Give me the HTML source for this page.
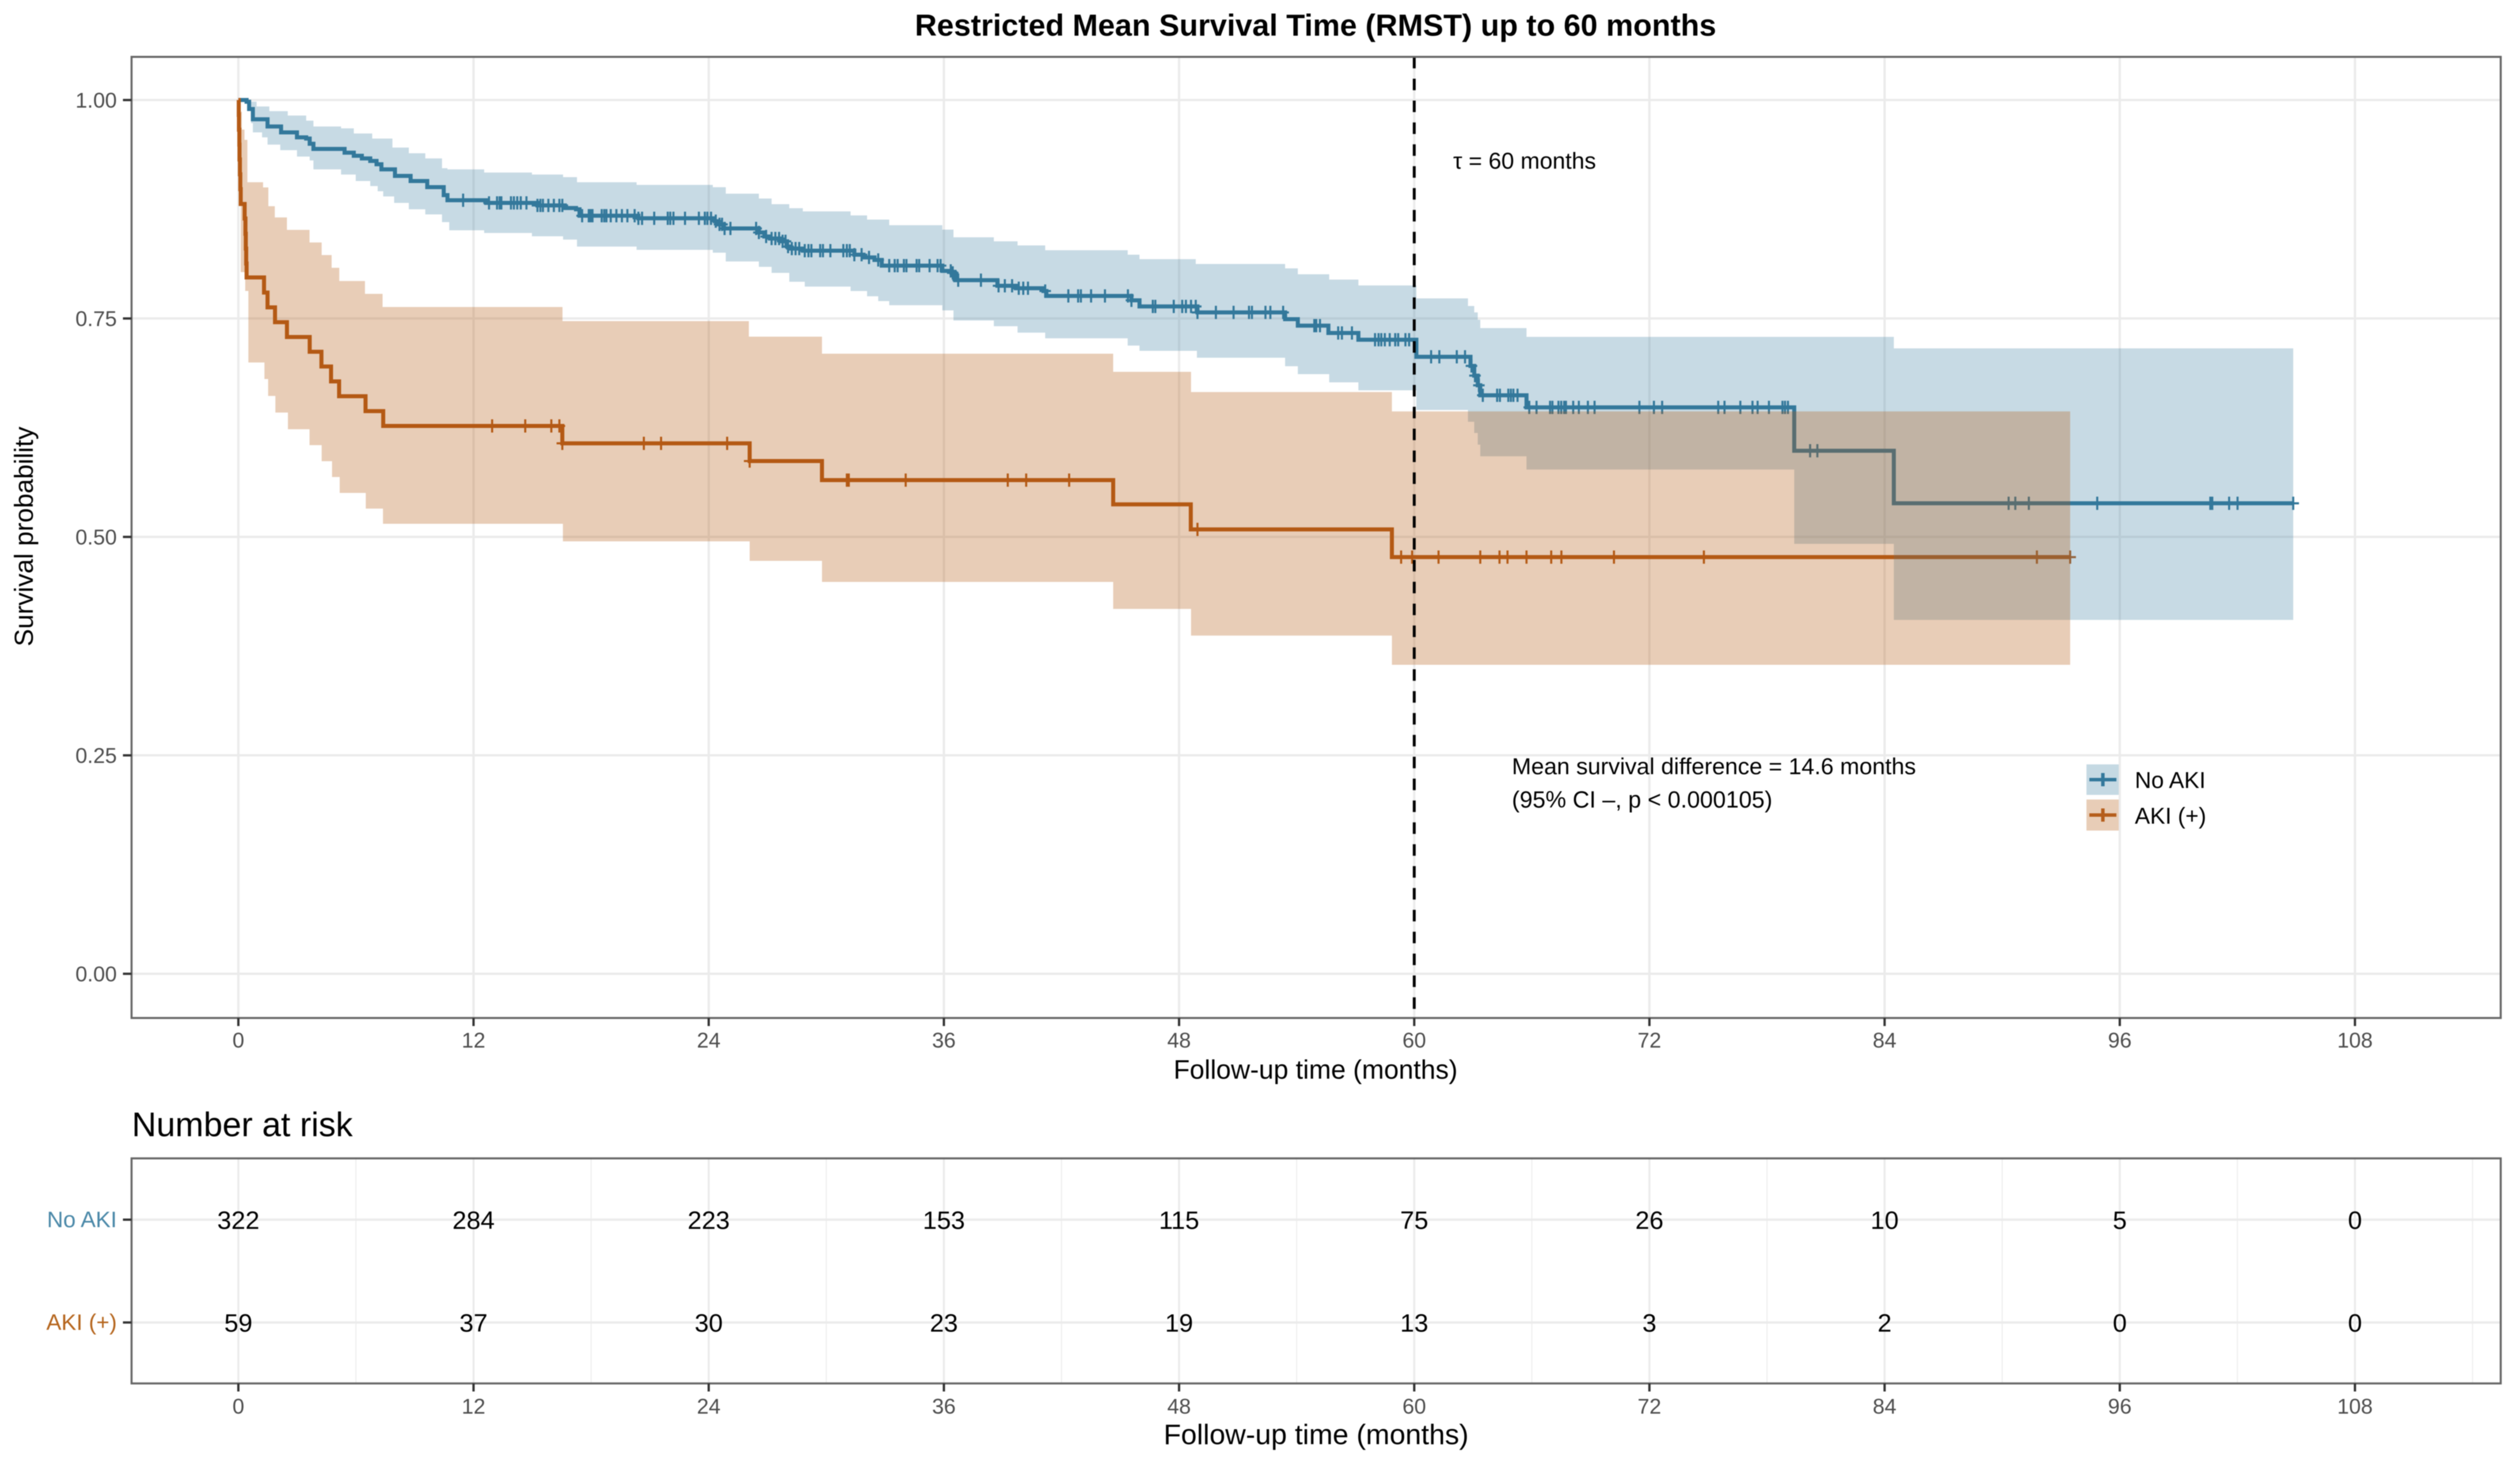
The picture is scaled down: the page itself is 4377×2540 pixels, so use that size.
<!DOCTYPE html>
<html lang="en">
<head>
<meta charset="utf-8">
<title>Restricted Mean Survival Time (RMST) up to 60 months</title>
<style>
html,body{margin:0;padding:0;background:#fff;width:4377px;height:2540px;overflow:hidden}
svg{display:block;font-family:"Liberation Sans",Arial,sans-serif;filter:blur(0.7px)}
</style>
</head>
<body>
<svg id="chart" xmlns="http://www.w3.org/2000/svg" width="4377" height="2540" viewBox="0 0 4377 2540">
  <rect x="0" y="0" width="4377" height="2540" fill="#ffffff"/>
  <g id="grid-main"></g>
  <g id="lines"></g>
  <g id="bands"></g>
  <g id="tau-line"></g>
  <rect id="main-frame" x="228.5" y="98.8" width="4115" height="1669.8" fill="none" stroke="#666666" stroke-width="3.5"/>
  <g id="axes-main"></g>

  <text x="2285" y="62" text-anchor="middle" font-size="53" font-weight="bold" fill="#000000">Restricted Mean Survival Time (RMST) up to 60 months</text>
  <text x="2285" y="1874" text-anchor="middle" font-size="46" fill="#000000">Follow-up time (months)</text>
  <text transform="translate(57 932) rotate(-90)" text-anchor="middle" font-size="45.5" fill="#000000">Survival probability</text>
  <text x="2524" y="293" font-size="40" fill="#000000">τ = 60 months</text>
  <text x="2626" y="1345" font-size="40.2" fill="#000000">Mean survival difference = 14.6 months</text>
  <text x="2626" y="1403" font-size="40.4" fill="#000000">(95% CI –, p &lt; 0.000105)</text>

  <g id="legend">
    <g>
      <rect x="3624" y="1328" width="56" height="53" fill="#3e80a2" fill-opacity="0.3"/>
      <path d="M3629 1354.5H3676M3652.5 1343V1366" fill="none" stroke="#33789b" stroke-width="6"/>
      <text x="3708" y="1369" font-size="39.5" fill="#000000">No AKI</text>
    </g>
    <g>
      <rect x="3624" y="1389" width="56" height="54" fill="#b2580f" fill-opacity="0.3"/>
      <path d="M3629 1416H3676M3652.5 1404.5V1427.5" fill="none" stroke="#b55e1c" stroke-width="6"/>
      <text x="3708" y="1431" font-size="39.5" fill="#000000">AKI (+)</text>
    </g>
  </g>

  <text x="229" y="1974" font-size="59" fill="#000000">Number at risk</text>
  <g id="grid-table"></g>
  <g id="risk-values"></g>
  <rect x="228.5" y="2012.5" width="4115" height="391" fill="none" stroke="#666666" stroke-width="3.5"/>
  <g id="axes-table"></g>
  <text x="2286" y="2509" text-anchor="middle" font-size="49.4" fill="#000000">Follow-up time (months)</text>
</svg>

<script>
// ---------- data ----------
const xTickMonths = [0, 12, 24, 36, 48, 60, 72, 84, 96, 108];
const xMinorMonths = [6, 18, 30, 42, 54, 66, 78, 90, 102, 114];
const yTickValues = [1.00, 0.75, 0.50, 0.25, 0.00];
const yTickLabels = ["1.00", "0.75", "0.50", "0.25", "0.00"];
const tauMonths = 60;

// No AKI Kaplan-Meier steps: time (months) and survival after the drop
const noAkiTimes = [0,.42,.55,.74,1.49,2.18,2.99,3.46,3.64,3.83,5.42,5.89,6.30,6.73,7.05,7.30,7.99,8.79,9.64,10.48,10.67,12.64,15.26,16.66,17.23,17.41,20.41,24.31,24.5,24.78,26.56,26.84,27.12,27.68,28.0,28.15,28.8,31.43,31.9,32.46,32.83,35.92,36.39,36.58,38.73,39.67,41.08,41.23,45.57,45.98,48.94,53.41,54.06,55.62,57.15,60.11,62.87,63.06,63.24,63.37,65.73,79.39,84.47,104.85];
const noAkiSurv = [1,.998,.9897,.978,.9697,.963,.9573,.9559,.95,.9441,.9397,.9362,.9332,.9303,.9265,.9206,.9132,.9073,.9003,.8912,.8853,.8823,.8794,.8764,.875,.8676,.8647,.8614,.8577,.853,.8484,.8438,.8415,.8383,.8323,.83,.8276,.823,.8198,.817,.8105,.8045,.8022,.7939,.7874,.7846,.7814,.7758,.7708,.7638,.7569,.7492,.7418,.7334,.7256,.7061,.6957,.6846,.6735,.6621,.6483,.5986,.5385,.5385];
const noAkiCensor = [11.47,12.79,13.2,13.33,13.42,13.91,14.06,14.23,14.41,14.7,15.26,15.41,15.54,15.82,16.1,16.38,16.53,17.54,17.88,17.97,18.07,18.54,18.67,18.78,19.0,19.29,19.57,19.85,20.22,20.41,20.6,21.22,21.91,22.04,22.2,22.79,23.5,23.8,23.93,24.12,24.36,24.55,24.68,24.81,25.11,26.42,26.56,26.93,27.21,27.4,27.59,27.77,27.92,28.05,28.24,28.43,28.62,28.9,29.09,29.24,29.69,29.83,30.21,30.87,31.05,31.2,31.43,31.8,32.18,32.65,33.21,33.49,33.64,33.96,34.09,34.61,34.74,35.27,35.68,35.83,36.35,36.45,36.73,37.89,38.79,39.11,39.48,39.82,40.05,40.29,41.17,42.35,42.85,42.99,43.51,44.22,45.39,45.57,46.66,46.79,47.73,48.16,48.35,48.61,48.85,48.94,49.88,50.78,51.57,51.72,52.41,52.66,53.31,54.9,55.0,55.19,56.12,56.31,56.82,58.0,58.18,58.32,58.5,58.75,59.03,59.18,59.55,59.74,60.86,61.28,62.17,62.59,62.92,63.1,63.3,63.5,64.23,64.37,64.8,64.93,65.06,65.27,65.87,66.24,66.93,67.05,67.36,67.5,67.65,67.74,68.11,68.4,68.86,69.2,71.49,72.23,72.65,75.51,75.83,76.64,77.26,77.52,78.1,78.79,78.92,79.07,80.2,80.57,90.33,90.67,91.36,94.85,100.62,100.72,101.58,102.01,104.85];

// AKI (+) Kaplan-Meier steps
const akiTimes = [0,.02,.03,.05,.06,.08,.10,.12,.32,.36,.38,.40,.42,1.31,1.49,1.87,2.48,3.64,4.24,4.73,5.14,6.49,7.39,16.53,26.09,29.78,44.64,48.6,58.86,93.47];
const akiSurv = [1,.983,.966,.949,.932,.915,.898,.881,.8644,.847,.83,.813,.797,.7797,.7627,.7458,.7288,.7119,.695,.678,.661,.644,.627,.6071,.5868,.565,.5373,.5086,.4769,.4769];
const akiCensor = [12.95,14.64,15.97,16.38,16.53,20.69,21.57,24.94,26.09,31.05,31.15,34.05,39.26,40.2,42.39,48.94,59.33,59.89,61.24,63.37,64.35,64.76,65.73,66.99,67.51,70.19,74.78,91.77,93.47];

// 95% confidence bands
const noAkiUpperTimes = [0,.46,.93,1.58,2.52,3.46,3.83,5.24,5.89,6.83,7.86,8.70,9.54,10.39,10.67,12.54,14.98,16.57,17.28,20.32,24.21,24.87,26.56,27.21,28.11,28.8,31.24,32.08,33.21,35.92,36.49,38.55,39.76,41.17,45.38,45.98,48.85,53.41,54.06,55.66,57.15,60.11,62.74,63.06,63.24,63.37,65.73,84.47,104.85];
const noAkiUpperSurv = [1,.998,.9926,.9873,.9823,.9764,.9697,.9676,.9617,.9559,.9456,.9391,.9332,.922,.9206,.917,.9147,.9117,.9059,.9029,.9002,.8928,.8873,.8808,.8762,.8725,.8679,.8632,.8568,.8517,.8429,.8383,.8336,.8281,.823,.8179,.8124,.8073,.8006,.7945,.7878,.773,.7643,.7569,.7485,.739,.729,.7158,.7158];
const noAkiLowerTimes = [0,.65,.74,1.21,1.49,2.14,2.99,3.64,3.83,5.24,5.99,6.73,7.11,7.39,7.95,8.7,9.54,10.39,10.76,12.54,14.98,16.57,17.28,20.32,24.21,24.87,26.56,27.21,28.11,28.9,31.24,32.08,32.65,33.21,35.92,36.49,38.55,39.76,41.17,45.38,45.98,48.91,53.41,54.06,55.66,57.15,60.11,62.74,63.06,63.24,63.37,65.73,79.39,84.47,104.85];
const noAkiLowerSurv = [1,.9735,.963,.9573,.949,.9426,.9353,.9309,.9206,.9147,.9073,.9015,.8956,.8897,.8823,.875,.8691,.8603,.8509,.8479,.8441,.8403,.8323,.8285,.8253,.8152,.8091,.8022,.792,.7865,.7814,.7754,.7699,.7652,.7592,.7477,.7412,.7338,.7273,.719,.713,.7051,.6954,.6863,.6769,.6678,.6453,.6318,.619,.6056,.5922,.5771,.492,.405,.405];
const akiUpperTimes = [0,.08,.18,.31,.46,1.26,1.53,1.86,2.48,3.63,4.25,4.76,5.15,6.46,7.36,16.54,26.05,29.78,44.64,48.61,58.86,93.47];
const akiUpperSurv = [1,.9867,.9662,.9544,.9059,.9,.8785,.8656,.8514,.837,.8226,.808,.7929,.7782,.7631,.747,.7292,.7097,.6889,.6658,.6437,.6437];
const akiLowerTimes = [0,.05,.12,.35,.51,1.33,1.52,1.89,2.53,3.63,4.25,4.78,5.17,6.5,7.38,16.56,26.09,29.78,44.64,48.61,58.86,93.47];
const akiLowerSurv = [1,.9,.803,.7815,.6996,.6807,.6613,.6423,.6232,.605,.5866,.5685,.5503,.5324,.515,.4949,.4726,.4485,.4176,.3871,.3536,.3536];

// Number at risk
const riskGroups = ["No AKI", "AKI (+)"];
const riskMonths = [0, 12, 24, 36, 48, 60, 72, 84, 96, 108];
const riskNoAki = [322, 284, 223, 153, 115, 75, 26, 10, 5, 0];
const riskAki = [59, 37, 30, 23, 19, 13, 3, 2, 0, 0];

// ---------- scales and style ----------
const SVGNS = "http://www.w3.org/2000/svg";
const xScale = m => 414 + m * 34.04;
const yScale = s => 173.8 + (1 - s) * 1518;
const rowScale = i => 2119 + i * 178.6;
const BLUE = "#2f7599", ORANGE = "#b55a16", BLUE_FILL = "#3e80a2", ORANGE_FILL = "#b2580f";
const PANEL_L = 228.5, PANEL_R = 4343.5, PANEL_T = 98.8, PANEL_B = 1768.6, TABLE_T = 2012.5, TABLE_B = 2403.5;

function make(tag, parent, attrs, text) {
  const el = document.createElementNS(SVGNS, tag);
  for (const k in attrs) el.setAttribute(k, attrs[k]);
  if (text !== undefined) el.textContent = text;
  document.getElementById(parent).appendChild(el);
  return el;
}
function stepLine(times, surv) {
  let d = "M" + xScale(times[0]).toFixed(1) + " " + yScale(surv[0]).toFixed(1);
  for (let i = 1; i < times.length; i++) {
    d += "H" + xScale(times[i]).toFixed(1) + "V" + yScale(surv[i]).toFixed(1);
  }
  return d;
}
function bandPath(upT, upS, loT, loS) {
  let d = stepLine(upT, upS);
  for (let i = loT.length - 1; i > 0; i--) {
    d += "L" + xScale(loT[i]).toFixed(1) + " " + yScale(loS[i]).toFixed(1);
    d += "V" + yScale(loS[i - 1]).toFixed(1);
  }
  d += "L" + xScale(loT[0]).toFixed(1) + " " + yScale(loS[0]).toFixed(1) + "Z";
  return d;
}
function survivalAt(times, surv, m) {
  let s = surv[0];
  for (let i = 0; i < times.length; i++) { if (times[i] <= m) s = surv[i]; }
  return s;
}

// ---------- main panel grid ----------
xTickMonths.forEach(m => {
  const el = make("line", "grid-main", {x1: xScale(m), x2: xScale(m), y1: PANEL_T, y2: PANEL_B, stroke: "#ebebeb", "stroke-width": 4});
  
  
});
yTickValues.forEach(v => {
  const el = make("line", "grid-main", {x1: PANEL_L, x2: PANEL_R, y1: yScale(v), y2: yScale(v), stroke: "#ebebeb", "stroke-width": 4});
  
  
});

// ---------- curves and censor marks ----------
const noAkiCurve = make("path", "lines", {d: stepLine(noAkiTimes, noAkiSurv), fill: "none", stroke: BLUE, "stroke-width": 7});


const akiCurve = make("path", "lines", {d: stepLine(akiTimes, akiSurv), fill: "none", stroke: ORANGE, "stroke-width": 7});



noAkiCensor.forEach(m => {
  const x = xScale(m), y = yScale(survivalAt(noAkiTimes, noAkiSurv, m));
  const el = make("path", "lines", {d: `M${x.toFixed(1)} ${(y-11.5).toFixed(1)}V${(y+11.5).toFixed(1)}M${(x-10).toFixed(1)} ${y.toFixed(1)}H${(x+10).toFixed(1)}`, fill: "none", stroke: BLUE, "stroke-width": 3.6});
  
  
});
akiCensor.forEach(m => {
  const x = xScale(m), y = yScale(survivalAt(akiTimes, akiSurv, m));
  const el = make("path", "lines", {d: `M${x.toFixed(1)} ${(y-11.5).toFixed(1)}V${(y+11.5).toFixed(1)}M${(x-10).toFixed(1)} ${y.toFixed(1)}H${(x+10).toFixed(1)}`, fill: "none", stroke: ORANGE, "stroke-width": 3.6});
  
  
});

// ---------- confidence bands ----------
const noAkiBand = make("path", "bands", {d: bandPath(noAkiUpperTimes, noAkiUpperSurv, noAkiLowerTimes, noAkiLowerSurv), fill: BLUE_FILL, "fill-opacity": 0.29});


const akiBand = make("path", "bands", {d: bandPath(akiUpperTimes, akiUpperSurv, akiLowerTimes, akiLowerSurv), fill: ORANGE_FILL, "fill-opacity": 0.3});



// ---------- tau line ----------
const tauLine = make("line", "tau-line", {x1: xScale(tauMonths), x2: xScale(tauMonths), y1: PANEL_T, y2: PANEL_B, stroke: "#000000", "stroke-width": 5, "stroke-dasharray": "20 18"});



// ---------- main panel axes ----------
xTickMonths.forEach(m => {
  const tick = make("line", "axes-main", {x1: xScale(m), x2: xScale(m), y1: PANEL_B, y2: PANEL_B + 14, stroke: "#333333", "stroke-width": 4});
  
  
  const label = make("text", "axes-main", {x: xScale(m), y: 1820, "text-anchor": "middle", "font-size": 37, fill: "#4d4d4d"}, String(m));
  
  
});
yTickValues.forEach((v, i) => {
  const tick = make("line", "axes-main", {x1: PANEL_L - 15, x2: PANEL_L, y1: yScale(v), y2: yScale(v), stroke: "#333333", "stroke-width": 4});
  
  
  const label = make("text", "axes-main", {x: 203, y: yScale(v) + 13, "text-anchor": "end", "font-size": 37, fill: "#4d4d4d"}, yTickLabels[i]);
  
  
});

// ---------- risk table ----------
xTickMonths.forEach(m => {
  const el = make("line", "grid-table", {x1: xScale(m), x2: xScale(m), y1: TABLE_T, y2: TABLE_B, stroke: "#ebebeb", "stroke-width": 3.5});
  
  
});
xMinorMonths.forEach(m => {
  const el = make("line", "grid-table", {x1: xScale(m), x2: xScale(m), y1: TABLE_T, y2: TABLE_B, stroke: "#efefef", "stroke-width": 2});
  
  
});
riskGroups.forEach((g, i) => {
  const grid = make("line", "grid-table", {x1: PANEL_L, x2: PANEL_R, y1: rowScale(i), y2: rowScale(i), stroke: "#ebebeb", "stroke-width": 4});
  
  
  const tick = make("line", "axes-table", {x1: PANEL_L - 15, x2: PANEL_L, y1: rowScale(i), y2: rowScale(i), stroke: "#333333", "stroke-width": 4});
  
  
  const label = make("text", "axes-table", {x: 203, y: rowScale(i) + 13, "text-anchor": "end", "font-size": 39, fill: i === 0 ? "#4a88a8" : "#b5651d"}, g);
  
  
});
riskMonths.forEach((m, i) => {
  const a = make("text", "risk-values", {x: xScale(m), y: rowScale(0) + 16, "text-anchor": "middle", "font-size": 44, fill: "#000000"}, String(riskNoAki[i]));
  
  
  const b = make("text", "risk-values", {x: xScale(m), y: rowScale(1) + 16, "text-anchor": "middle", "font-size": 44, fill: "#000000"}, String(riskAki[i]));
  
  
  const tick = make("line", "axes-table", {x1: xScale(m), x2: xScale(m), y1: TABLE_B, y2: TABLE_B + 14, stroke: "#333333", "stroke-width": 4});
  
  
  const label = make("text", "axes-table", {x: xScale(m), y: 2456, "text-anchor": "middle", "font-size": 37, fill: "#4d4d4d"}, String(m));
  
  
});
</script>
</body>
</html>
